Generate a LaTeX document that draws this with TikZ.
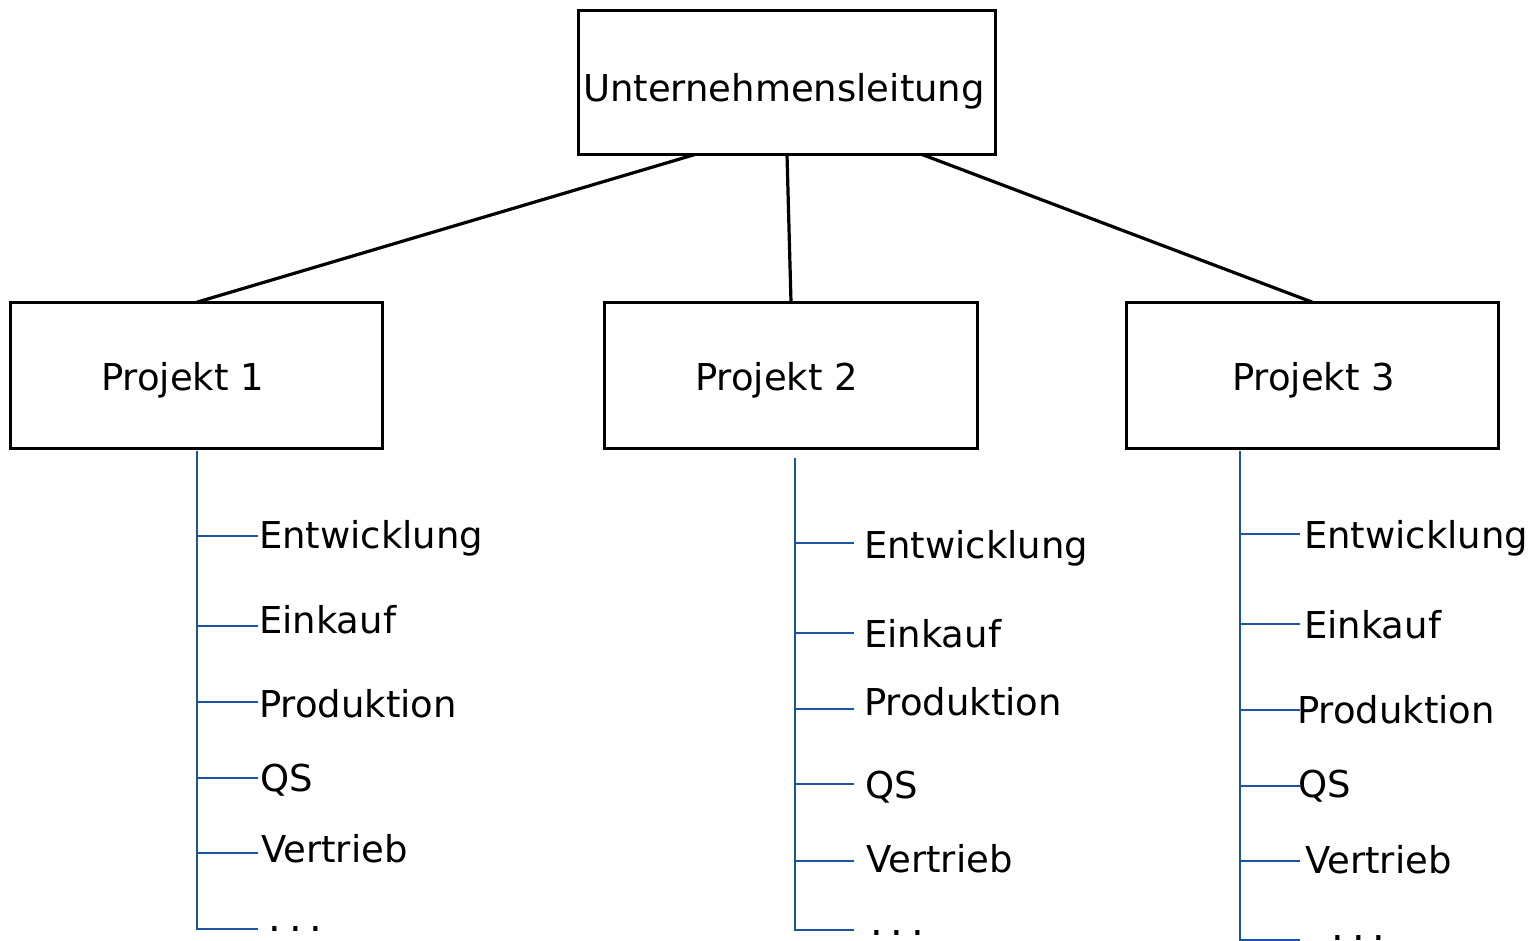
\documentclass[tikz,border=0pt]{standalone}
\usepackage{fontspec}
\setmainfont{DejaVu Sans}
\definecolor{treeblue}{RGB}{28,84,160}
\newcommand{\tdots}{{\fontsize{40}{44}\selectfont .\hspace{7.8pt}.\hspace{7.8pt}.}}
\begin{document}
\begin{tikzpicture}[x=1pt,y=-1pt,
  box/.style={draw=black,line width=3.2pt,rectangle,inner sep=0pt,outer sep=0pt},
  txt/.style={inner sep=0pt,outer sep=0pt,font=\fontsize{37}{44}\selectfont},
  conn/.style={draw=black,line width=3.2pt},
  branch/.style={draw=treeblue,line width=2.5pt}]
\useasboundingbox[fill=white] (0,0) rectangle (1537,941);
% boxes
\node[box,minimum width=417pt,minimum height=144pt] (top) at (787,82.5) {};
\node[box,minimum width=372pt,minimum height=146pt] (p1) at (196.75,375.25) {};
\node[box,minimum width=373pt,minimum height=146pt] (p2) at (791,375.25) {};
\node[box,minimum width=372pt,minimum height=146pt] (p3) at (1312.5,375.25) {};
% box texts
\node[txt,anchor=base] (topt) at (784,102) {Unternehmensleitung};
\node[txt,anchor=base] (p1t) at (182.5,390) {Projekt 1};
\node[txt,anchor=base] (p2t) at (776.5,390) {Projekt 2};
\node[txt,anchor=base] (p3t) at (1313.5,390) {Projekt 3};
% connectors
\draw[conn] (695,0 |- top.south) -- (p1.north);
\draw[conn] (top.south) -- (p2.north);
\draw[conn] (922,0 |- top.south) -- (p3.north);
% tree 1
\coordinate (a0) at (197,451);
\coordinate (a1) at (197,536); \coordinate (a1e) at (258,536);
\coordinate (a2) at (197,626); \coordinate (a2e) at (258,626);
\coordinate (a3) at (197,702); \coordinate (a3e) at (258,702);
\coordinate (a4) at (197,778); \coordinate (a4e) at (258,778);
\coordinate (a5) at (197,853); \coordinate (a5e) at (258,853);
\coordinate (a6) at (197,929); \coordinate (a6e) at (258,929);
\draw[branch] (a0) -- (a6) -- (a6e);
\foreach \i in {1,...,5} \draw[branch] (a\i) -- (a\i e);
\node[txt,anchor=base west] (a1t) at (259,548) {Entwicklung};
\node[txt,anchor=base west] (a2t) at (259,633) {Einkauf};
\node[txt,anchor=base west] (a3t) at (259,717) {Produktion};
\node[txt,anchor=base west] (a4t) at (260,791) {QS};
\node[txt,anchor=base west] (a5t) at (261,862) {Vertrieb};
\node[txt,anchor=base west] (a6t) at (268.6,931.5) {\tdots};
% tree 2
\coordinate (b0) at (795,458);
\coordinate (b1) at (795,543); \coordinate (b1e) at (854,543);
\coordinate (b2) at (795,633); \coordinate (b2e) at (854,633);
\coordinate (b3) at (795,709); \coordinate (b3e) at (854,709);
\coordinate (b4) at (795,784); \coordinate (b4e) at (854,784);
\coordinate (b5) at (795,861); \coordinate (b5e) at (854,861);
\coordinate (b6) at (795,930); \coordinate (b6e) at (854,930);
\draw[branch] (b0) -- (b6) -- (b6e);
\foreach \i in {1,...,5} \draw[branch] (b\i) -- (b\i e);
\node[txt,anchor=base west] (b1t) at (864,558) {Entwicklung};
\node[txt,anchor=base west] (b2t) at (864,647) {Einkauf};
\node[txt,anchor=base west] (b3t) at (864,715) {Produktion};
\node[txt,anchor=base west] (b4t) at (865,798) {QS};
\node[txt,anchor=base west] (b5t) at (866,872) {Vertrieb};
\node[txt,anchor=base west] (b6t) at (870,935.5) {\tdots};
% tree 3
\coordinate (c0) at (1240,451);
\coordinate (c1) at (1240,534); \coordinate (c1e) at (1300,534);
\coordinate (c2) at (1240,624); \coordinate (c2e) at (1300,624);
\coordinate (c3) at (1240,710); \coordinate (c3e) at (1300,710);
\coordinate (c4) at (1240,786); \coordinate (c4e) at (1300,786);
\coordinate (c5) at (1240,861); \coordinate (c5e) at (1300,861);
\coordinate (c6) at (1240,940); \coordinate (c6e) at (1300,940);
\draw[branch] (c0) -- (c6) -- (c6e);
\foreach \i in {1,...,5} \draw[branch] (c\i) -- (c\i e);
\node[txt,anchor=base west] (c1t) at (1304,548) {Entwicklung};
\node[txt,anchor=base west] (c2t) at (1304,638) {Einkauf};
\node[txt,anchor=base west] (c3t) at (1297,723) {Produktion};
\node[txt,anchor=base west] (c4t) at (1298,797) {QS};
\node[txt,anchor=base west] (c5t) at (1305,873) {Vertrieb};
\node[txt,anchor=base west] (c6t) at (1331.6,940) {\tdots};
\end{tikzpicture}
\end{document}
